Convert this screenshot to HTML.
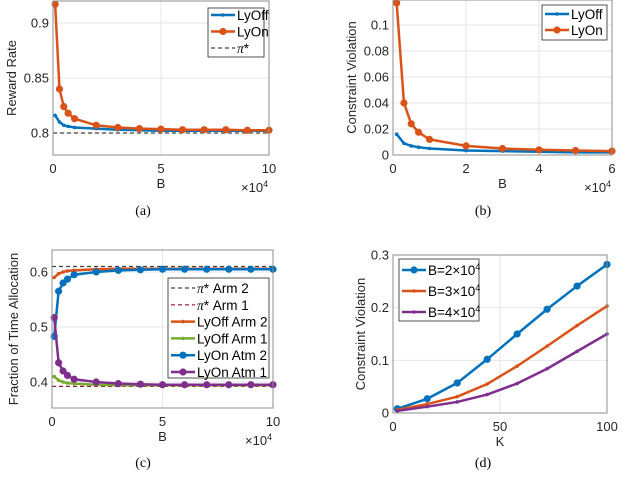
<!DOCTYPE html>
<html><head><meta charset="utf-8"><style>
body{margin:0;background:#fff;}
svg{display:block;font-family:"Liberation Sans",sans-serif;}
.cap{font-family:"Liberation Serif",serif;font-size:14px;fill:#000;}
</style></head><body>
<svg id="fig" width="640" height="493" viewBox="0 0 640 493"></svg>
<script>
// Panel (a)
const aX=[0.1,0.3,0.5,0.7,1,2,3,4,5,6,7,8,9,10];
const aLyOn=[0.917,0.840,0.824,0.818,0.813,0.807,0.805,0.804,0.8035,0.803,0.803,0.803,0.8025,0.8025];
const aLyOff=[0.816,0.810,0.807,0.806,0.805,0.804,0.803,0.8025,0.802,0.802,0.802,0.802,0.802,0.802];
const aPi=0.8;
const aYTicks=[0.8,0.85,0.9];const aXTicks=[0,5,10];
// Panel (b)
const bX=[0.1,0.3,0.5,0.7,1,2,3,4,5,6];
const bLyOn=[0.117,0.040,0.024,0.0175,0.012,0.007,0.005,0.004,0.0035,0.003];
const bLyOff=[0.016,0.009,0.007,0.006,0.005,0.0035,0.003,0.0025,0.002,0.002];
const bYTicks=[0,0.02,0.04,0.06,0.08,0.1];const bXTicks=[0,2,4,6];
// Panel (c)
const cX=[0.1,0.3,0.5,0.7,1,2,3,4,5,6,7,8,9,10];
const cOffArm2=[0.590,0.597,0.600,0.602,0.603,0.605,0.606,0.606,0.606,0.606,0.606,0.606,0.606,0.606];
const cOffArm1=[0.410,0.403,0.400,0.398,0.397,0.395,0.394,0.394,0.394,0.394,0.394,0.394,0.394,0.394];
const cOnArm2=[0.483,0.565,0.580,0.587,0.595,0.600,0.603,0.604,0.605,0.605,0.605,0.605,0.605,0.605];
const cOnArm1=[0.517,0.435,0.420,0.412,0.405,0.400,0.397,0.396,0.395,0.395,0.395,0.395,0.395,0.395];
const cPiArm2=0.61,cPiArm1=0.392;
const cYTicks=[0.4,0.5,0.6];const cXTicks=[0,5,10];
// Panel (d)
const dK=[2,16,30,44,58,72,86,100];
const dB2=[0.008,0.027,0.057,0.102,0.150,0.197,0.241,0.282];
const dB3=[0.006,0.017,0.031,0.055,0.089,0.127,0.166,0.203];
const dB4=[0.004,0.012,0.021,0.035,0.056,0.084,0.117,0.150];
const dYTicks=[0,0.1,0.2,0.3];const dXTicks=[0,50,100];

const NS="http://www.w3.org/2000/svg";
const svg=document.getElementById('fig');
function mk(tag,attrs,parent,text){const e=document.createElementNS(NS,tag);for(const k in attrs)e.setAttribute(k,attrs[k]);if(text!==undefined)e.textContent=text;(parent||svg).appendChild(e);return e;}
const BLUE='#0072BD',ORANGE='#D95319',GREEN='#77AC30',PURPLE='#7E2F8E';

function panel(name,P){
  const g=mk('g',{});
  
  
  const sx=v=>P.l+(v-P.x0)/(P.x1-P.x0)*(P.r-P.l);
  const sy=v=>P.yb+(v-P.v0)/(P.v1-P.v0)*(P.yt-P.yb);
  P.xt.forEach(t=>{const x=sx(t);const e=mk('line',{x1:x,x2:x,y1:P.t,y2:P.b,stroke:'#e6e6e6','stroke-width':1},g);});
  P.yt_.forEach(t=>{const y=sy(t);const e=mk('line',{x1:P.l,x2:P.r,y1:y,y2:y,stroke:'#e6e6e6','stroke-width':1},g);});
  P.series.forEach(s=>{
    if(s.h!==undefined){const y=sy(s.h);const e=mk('line',{x1:P.l,x2:P.r,y1:y,y2:y,stroke:s.c,'stroke-width':1.2,'stroke-dasharray':'4,3'},g);return;}
    const pts=s.x.map((x,i)=>sx(x)+','+sy(s.y[i])).join(' ');
    const e=mk('polyline',{points:pts,fill:'none',stroke:s.c,'stroke-width':2.5,'stroke-linejoin':'round'},g);
    
    s.x.forEach((x,i)=>{const m=mk('circle',{cx:sx(x),cy:sy(s.y[i]),r:s.big?3.6:1.8,fill:s.c},g);});
  });
  const bx=mk('rect',{x:P.l,y:P.t,width:P.r-P.l,height:P.b-P.t,fill:'none',stroke:'#8c8c8c','stroke-width':1},g);
  
  P.xt.forEach(t=>{const e=mk('text',{x:sx(t),y:P.b+18,'text-anchor':'middle','font-size':13,fill:'#262626'},g,String(t));});
  P.yt_.forEach(t=>{const e=mk('text',{x:P.l-4,y:sy(t)+4.5,'text-anchor':'end','font-size':13,fill:'#262626'},g,String(t));});
  let e=mk('text',{x:(P.l+P.r)/2,y:P.b+33,'text-anchor':'middle','font-size':13,fill:'#262626'},g,P.xl);
  e=mk('text',{x:P.ylx,y:(P.t+P.b)/2,'text-anchor':'middle','font-size':13,fill:'#262626',transform:`rotate(-90 ${P.ylx} ${(P.t+P.b)/2})`},g,P.yl);
  if(P.exp){e=mk('text',{x:P.r-28,y:P.b+37,'font-size':13,fill:'#262626'},g);e.innerHTML='×10<tspan dy="-5" font-size="9">4</tspan>';}
  const L=P.leg;
  const lb=mk('rect',{x:L.x,y:L.y,width:L.w,height:L.h,fill:'#fff',stroke:'#262626','stroke-width':0.8},g);
  
  L.items.forEach((it,i)=>{
    const y=L.y0+i*L.dy;
    const ln=mk('line',{x1:L.x+3,x2:L.x+27,y1:y,y2:y,stroke:it.c,'stroke-width':it.dash?1.2:2.5,'stroke-dasharray':it.dash?'4,3':'none'},g);
    
    if(!it.dash){const m=mk('circle',{cx:L.x+15,cy:y,r:it.big?3.6:1.8,fill:it.c},g);}
    const t=mk('text',{x:L.x+29,y:y+5,'font-size':13.5,fill:'#000'},g);t.innerHTML=it.t;
  });
}

panel('panel-a',{l:53,r:269,t:1,b:155,x0:0,x1:10,yb:133,v0:0.8,yt:78,v1:0.85,xt:aXTicks,yt_:aYTicks,xl:'B',yl:'Reward Rate',ylx:16,exp:true,
 series:[{n:'pi-star-line',h:aPi,c:'#404040'},{n:'lyoff-line',x:aX,y:aLyOff,c:BLUE},{n:'lyon-line',x:aX,y:aLyOn,c:ORANGE,big:true}],
 leg:{x:208,y:8,w:56,h:49,y0:15,dy:16.5,items:[{t:'LyOff',c:BLUE},{t:'LyOn',c:ORANGE,big:true},{t:'<tspan font-family="Liberation Serif" font-style="italic">π</tspan>*',c:'#404040',dash:true}]}});
panel('panel-b',{l:393,r:612,t:0,b:155,x0:0,x1:6,yb:155,v0:0,yt:25,v1:0.1,xt:bXTicks,yt_:bYTicks,xl:'B',yl:'Constraint Violation',ylx:356,exp:true,
 series:[{n:'lyoff-line',x:bX,y:bLyOff,c:BLUE},{n:'lyon-line',x:bX,y:bLyOn,c:ORANGE,big:true}],
 leg:{x:542,y:5,w:65,h:35,y0:14,dy:16,items:[{t:'LyOff',c:BLUE},{t:'LyOn',c:ORANGE,big:true}]}});
panel('panel-c',{l:52,r:273,t:250,b:408,x0:0,x1:10,yb:382,v0:0.4,yt:272,v1:0.6,xt:cXTicks,yt_:cYTicks,xl:'B',yl:'Fraction of Time Allocation',ylx:18,exp:true,
 series:[{n:'pi-star-arm2-line',h:cPiArm2,c:'#404040'},{n:'pi-star-arm1-line',h:cPiArm1,c:'#A2142F'},{n:'lyoff-arm2-line',x:cX,y:cOffArm2,c:ORANGE},{n:'lyoff-arm1-line',x:cX,y:cOffArm1,c:GREEN},{n:'lyon-arm2-line',x:cX,y:cOnArm2,c:BLUE,big:true},{n:'lyon-arm1-line',x:cX,y:cOnArm1,c:PURPLE,big:true}],
 leg:{x:168,y:278,w:101,h:100,y0:288,dy:16.8,items:[
  {t:'<tspan font-family="Liberation Serif" font-style="italic">π</tspan>* Arm 2',c:'#404040',dash:true},
  {t:'<tspan font-family="Liberation Serif" font-style="italic">π</tspan>* Arm 1',c:'#A2142F',dash:true},
  {t:'LyOff Arm 2',c:ORANGE},{t:'LyOff Arm 1',c:GREEN},{t:'LyOn Atm 2',c:BLUE,big:true},{t:'LyOn Atm 1',c:PURPLE,big:true}]}});
panel('panel-d',{l:393,r:607,t:255,b:413,x0:0,x1:100,yb:413,v0:0,yt:255,v1:0.3,xt:dXTicks,yt_:dYTicks,xl:'K',yl:'Constraint Violation',ylx:365,exp:false,
 series:[{n:'b2-line',x:dK,y:dB2,c:BLUE,big:true},{n:'b3-line',x:dK,y:dB3,c:ORANGE},{n:'b4-line',x:dK,y:dB4,c:PURPLE}],
 leg:{x:399,y:259,w:80,h:62,y0:270,dy:21,items:[
  {t:'B=2×10<tspan dy="-5" font-size="9">4</tspan>',c:BLUE,big:true},{t:'B=3×10<tspan dy="-5" font-size="9">4</tspan>',c:ORANGE},{t:'B=4×10<tspan dy="-5" font-size="9">4</tspan>',c:PURPLE}]}});

[['(a)',143,215],['(b)',483,215],['(c)',143,467],['(d)',483,467]].forEach(c=>{
  const e=mk('text',{x:c[1],y:c[2],'text-anchor':'middle',class:'cap'},svg,c[0]);
  
  
});
</script>
</body></html>
